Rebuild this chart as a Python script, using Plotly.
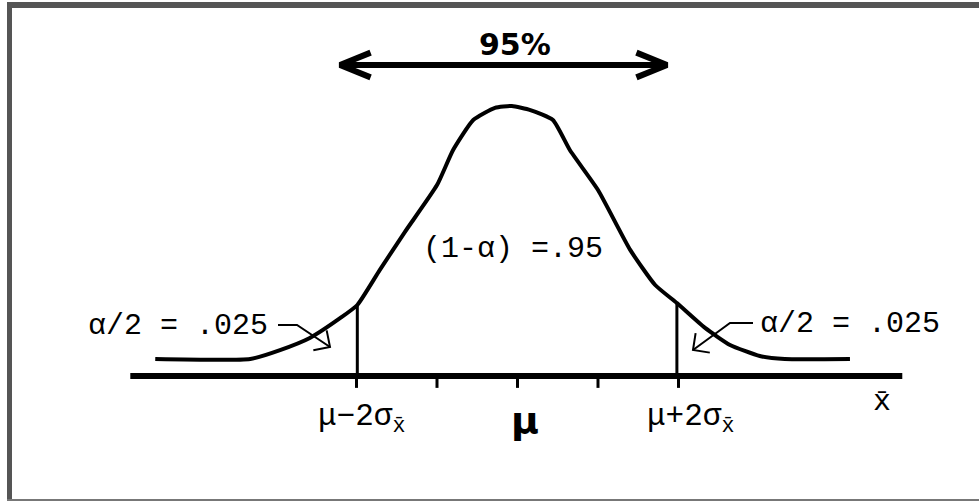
import math
import plotly.graph_objects as go

# bell curve: x in sigma units (mu = 0), y relative to peak height
curve_x = [-4.50, -3.32, -2.95, -2.58, -2.20, -1.99, -1.71, -1.40, -1.00, -0.80, -0.55, -0.28,
           -0.07, 0.16, 0.44, 0.65, 1.00, 1.40, 1.71, 1.98, 2.33, 2.64, 3.01, 3.32, 4.13]
curve_y = [0.063, 0.063, 0.096, 0.141, 0.215, 0.263, 0.393, 0.533, 0.707, 0.837, 0.948, 0.993,
           1.0, 0.985, 0.948, 0.837, 0.689, 0.467, 0.337, 0.270, 0.178, 0.115, 0.074, 0.063, 0.063]

tick_pos = [-2, -1, 0, 1, 2]
cut_pos = [-1.99, 1.98]
cut_height = [0.263, 0.270]
axis_span = [-4.81, 4.78]

W, H = 979, 503
X0, SX = 517.5, 80.5   # pixel of mu, pixels per sigma
Y0, SY = 376.0, 270.0  # pixel of baseline, pixels per unit height


def px_x(p):
    return (p - X0) / SX


def px_y(p):
    return (Y0 - p) / SY


def arrow_trace(path, arm, half_angle, width, both=False):
    """shaft along the pixel path plus open chevron head(s)"""
    xs = [px_x(p[0]) for p in path]
    ys = [px_y(p[1]) for p in path]
    ends = [(path[-1], path[-2])]
    if both:
        ends.append((path[0], path[1]))
    for tip, prev in ends:
        back = math.atan2(prev[1] - tip[1], prev[0] - tip[0])
        a1 = (tip[0] + arm * math.cos(back + half_angle), tip[1] + arm * math.sin(back + half_angle))
        a2 = (tip[0] + arm * math.cos(back - half_angle), tip[1] + arm * math.sin(back - half_angle))
        xs += [None, px_x(a1[0]), px_x(tip[0]), px_x(a2[0])]
        ys += [None, px_y(a1[1]), px_y(tip[1]), px_y(a2[1])]
    return go.Scatter(x=xs, y=ys, mode="lines", hoverinfo="skip",
                      line=dict(color="black", width=width))


fig = go.Figure()

# baseline axis
fig.add_trace(go.Scatter(x=axis_span, y=[0, 0], mode="lines",
                         line=dict(color="black", width=6), hoverinfo="skip"))
# ticks
for t in tick_pos:
    fig.add_trace(go.Scatter(x=[t, t], y=[0, -0.044], mode="lines",
                             line=dict(color="black", width=3), hoverinfo="skip"))
# cut-off verticals
for cx, ch in zip(cut_pos, cut_height):
    fig.add_trace(go.Scatter(x=[cx, cx], y=[0, ch], mode="lines",
                             line=dict(color="black", width=3), hoverinfo="skip"))
# bell curve
fig.add_trace(go.Scatter(x=curve_x, y=curve_y, mode="lines",
                         line=dict(color="black", width=4, shape="spline", smoothing=0.5),
                         hoverinfo="skip"))

# 95% double arrow and small alpha/2 pointers
fig.add_trace(arrow_trace([(340, 65), (667, 65)], 33, math.radians(22), 6, both=True))
fig.add_trace(arrow_trace([(278, 325), (297, 325), (330, 347)], 17, math.radians(45), 2))
fig.add_trace(arrow_trace([(753, 323), (730, 323), (693, 350)], 17, math.radians(45), 2))

fig.add_annotation(x=px_x(515), y=px_y(44), text="95%", showarrow=False,
                   font=dict(family="DejaVu Sans", size=30, color="black", weight="bold"))

fig.add_annotation(x=px_x(270), y=px_y(326), xanchor="right", text="α/2 = .025", showarrow=False,
                   font=dict(family="Liberation Mono", size=30, color="black"))
fig.add_annotation(x=px_x(758), y=px_y(324), xanchor="left", text="α/2 = .025", showarrow=False,
                   font=dict(family="Liberation Mono", size=30, color="black"))

fig.add_annotation(x=px_x(513), y=px_y(249), text="(1-α) =.95", showarrow=False,
                   font=dict(family="Liberation Mono", size=30, color="black"))

# x-axis labels
fig.add_annotation(x=px_x(361), y=px_y(419), text="μ−2σ<sub>x̄</sub>", showarrow=False,
                   font=dict(family="Liberation Mono", size=31, color="black"))
fig.add_annotation(x=px_x(525), y=px_y(420), text="μ", showarrow=False,
                   font=dict(family="DejaVu Sans", size=38, color="black", weight="bold"))
fig.add_annotation(x=px_x(690), y=px_y(419), text="μ+2σ<sub>x̄</sub>", showarrow=False,
                   font=dict(family="Liberation Mono", size=31, color="black"))
fig.add_annotation(x=px_x(882), y=px_y(402), text="x̄", showarrow=False,
                   font=dict(family="Liberation Mono", size=30, color="black"))

# frame around the picture
fig.add_shape(type="rect", xref="paper", yref="paper", x0=7 / W, x1=12 / W, y0=2 / H, y1=1 - 2 / H,
              fillcolor="#555555", line=dict(width=0))
fig.add_shape(type="rect", xref="paper", yref="paper", x0=7 / W, x1=1, y0=1 - 8 / H, y1=1 - 2 / H,
              fillcolor="#555555", line=dict(width=0))
fig.add_shape(type="rect", xref="paper", yref="paper", x0=7 / W, x1=1, y0=2 / H, y1=4 / H,
              fillcolor="#777777", line=dict(width=0))

fig.update_layout(
    width=W, height=H,
    margin=dict(l=0, r=0, t=0, b=0),
    paper_bgcolor="white", plot_bgcolor="white",
    showlegend=False,
    xaxis=dict(range=[-X0 / SX, (W - X0) / SX], visible=False, fixedrange=True),
    yaxis=dict(range=[-(H - Y0) / SY, Y0 / SY], visible=False, fixedrange=True),
)

fig.write_html("out.html", config={"displayModeBar": False},
               post_script="document.body.style.margin='0';")
